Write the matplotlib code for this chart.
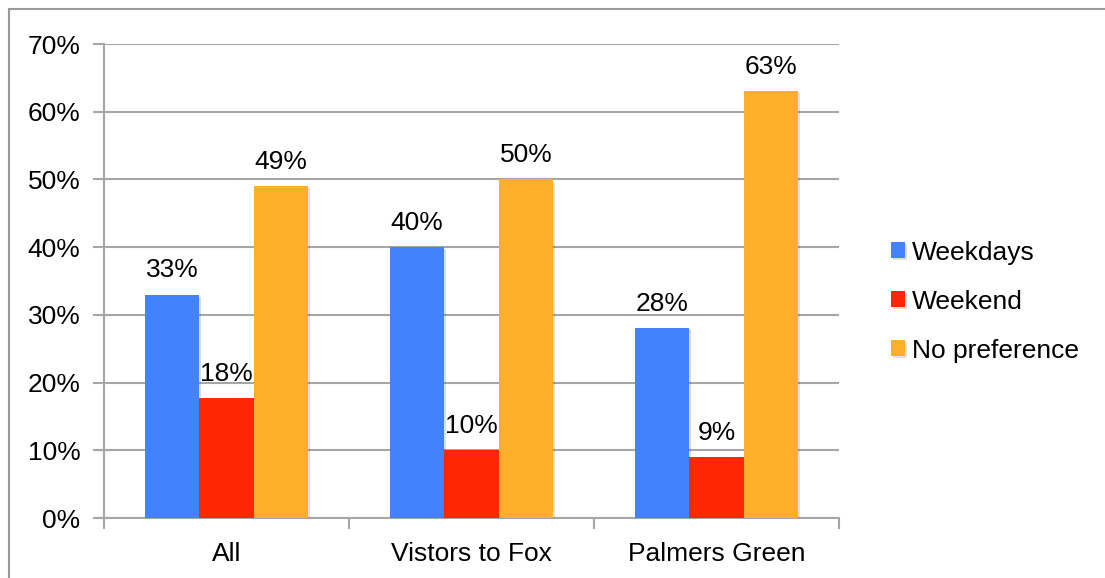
import numpy as np
import matplotlib.pyplot as plt
from matplotlib.lines import Line2D
import matplotlib.patheffects as pe

plt.rcParams['font.family'] = ['Liberation Sans', 'DejaVu Sans']

# Data
groups = ["All", "Vistors to Fox", "Palmers Green"]
weekdays = [33, 40, 28]
weekend = [17.7, 10, 9]
no_pref = [49, 50, 63]
series_names = ["Weekdays", "Weekend", "No preference"]
colors = ["#4282fb", "#ff2600", "#fdae2a"]
y_ticks = [0, 10, 20, 30, 40, 50, 60, 70]

fig = plt.figure(figsize=(11.05, 5.78), dpi=100)
ax = fig.add_axes([104 / 1105, 60 / 578, 735 / 1105, 474 / 578])

grid_col = "#a6a6a6"
fs = 19
x = np.arange(len(groups))
w = 0.2225
shadow = [pe.SimplePatchShadow(offset=(1.5, -1.5), alpha=0.15), pe.Normal()]

for i, (vals, name, col) in enumerate(zip([weekdays, weekend, no_pref], series_names, colors)):
    bars = ax.bar(x + (i - 1) * w, vals, width=w, color=col, label=name, zorder=3,
                  path_effects=shadow)
    for b, v in zip(bars, vals):
        ax.annotate(f"{round(v):.0f}%", (b.get_x() + b.get_width() / 2, b.get_height()),
                    xytext=(0, 9), textcoords="offset points", ha="center", va="bottom",
                    fontsize=fs, zorder=4)

ax.set_xlim(-0.5, 2.5)
ax.set_ylim(0, 70)
ax.set_yticks(y_ticks)
ax.set_yticklabels([f"{t}%" for t in y_ticks])
ax.yaxis.grid(True, color=grid_col, lw=1.5, zorder=0)

# group labels in the middle, tick marks at group boundaries
ax.set_xticks(x)
ax.set_xticklabels(groups)
ax.set_xticks(np.arange(-0.5, 3.0, 1.0), minor=True)
ax.tick_params(axis="x", which="major", length=0, pad=17, labelsize=fs)
ax.tick_params(axis="x", which="minor", length=8, width=1.5, color=grid_col)
ax.tick_params(axis="y", length=8, width=1.5, color=grid_col, pad=9, labelsize=fs)

for s in ["top", "right"]:
    ax.spines[s].set_visible(False)
for s in ["left", "bottom"]:
    ax.spines[s].set_color(grid_col)
    ax.spines[s].set_linewidth(1.5)

fig.legend(loc="upper left", bbox_to_anchor=(880 / 1105, 1 - 230 / 578), frameon=False,
           fontsize=fs, handlelength=0.55, handleheight=0.55, handletextpad=0.25,
           labelspacing=0.95, borderaxespad=0)

# outer frame of the chart image
fig.add_artist(Line2D([8.5 / 1105, 8.5 / 1105], [0, 1 - 9 / 578], color="#999999", lw=1.5))
fig.add_artist(Line2D([8.5 / 1105, 1], [1 - 9 / 578, 1 - 9 / 578], color="#999999", lw=1.5))

fig.savefig("out.png", dpi=100)
